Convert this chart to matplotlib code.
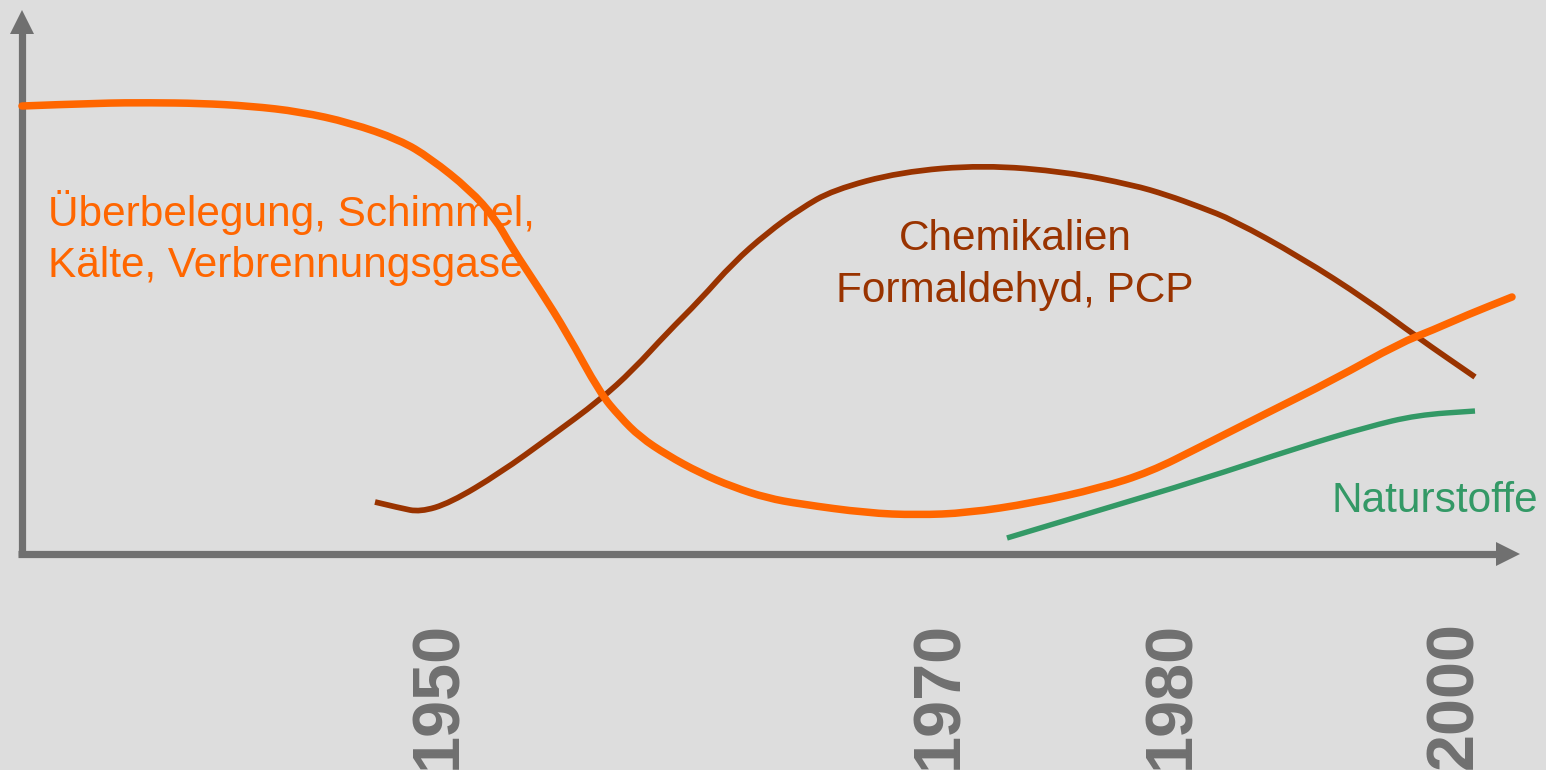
import matplotlib
matplotlib.use("Agg")
from matplotlib import pyplot as plt
from matplotlib.path import Path
from matplotlib.patches import PathPatch

plt.rcParams['font.family'] = ['Liberation Sans', 'DejaVu Sans']

BG = '#dddddd'
GREY = '#707070'
ORANGE = '#ff6600'
BROWN = '#993300'
GREEN = '#339966'

# chart units: x measured right of the y axis, y measured above the x axis
orange_x = [0, 78, 128, 178, 228, 278, 328, 378, 408, 448, 473, 490, 518, 545,
            578, 598, 618, 645, 678, 711, 745, 778, 845, 895, 945, 1011, 1078,
            1128, 1178, 1245, 1311, 1378, 1411, 1445, 1490]
orange_y = [447, 450, 450.3, 449.7, 447, 441.3, 430.3, 413, 395, 363, 335, 305,
            263, 220, 160, 136, 116, 98, 80, 66, 55, 49, 40, 38, 40, 50, 65,
            81, 106, 140, 173, 210, 223, 238, 256]

brown_x = [353, 378, 398, 428, 478, 528, 578, 611, 645, 678, 711, 745, 778, 811,
           878, 961, 1045, 1111, 1145, 1178, 1211, 1278, 1345, 1395, 1453]
brown_y = [51, 45, 41, 50, 80, 116, 153, 183, 220, 253, 290, 320, 344, 363,
           381, 388, 381, 368, 358, 346, 333, 296, 253, 216, 176]

green_x = [985, 1078, 1178, 1278, 1345, 1395, 1453]
green_y = [15, 43, 73, 106, 126, 138, 142]

tick_pos = [417, 918, 1150, 1433]
tick_labels = ['1950', '1970', '1980', '2000']


def smooth_line(ax, xs, ys, **kw):
    # quadratic bezier through the midpoints, the read points act as controls
    pts = list(zip(xs, ys))
    verts = [pts[0]]
    codes = [Path.MOVETO]
    for i in range(1, len(pts) - 1):
        mid = ((pts[i][0] + pts[i + 1][0]) / 2, (pts[i][1] + pts[i + 1][1]) / 2)
        verts += [pts[i], mid]
        codes += [Path.CURVE3, Path.CURVE3]
    verts.append(pts[-1])
    codes.append(Path.LINETO)
    ax.add_patch(PathPatch(Path(verts, codes), fill=False, **kw))


fig = plt.figure(figsize=(15.46, 7.70), dpi=100, facecolor=BG)
ax = fig.add_axes([0, 0, 1, 1])
ax.set_facecolor(BG)
ax.set_xlim(-22, 1524)
ax.set_ylim(-217, 553)
ax.axis('off')

# axes with arrowheads
ax.plot([0, 0], [-3, 522], color=GREY, lw=5.2, solid_capstyle='butt')
ax.plot([0], [531], marker='^', markersize=17, color=GREY, mew=0)
ax.plot([-4, 1478], [-1, -1], color=GREY, lw=5.2, solid_capstyle='butt')
ax.plot([1486], [-1], marker='>', markersize=17, color=GREY, mew=0)

smooth_line(ax, orange_x, orange_y, edgecolor=ORANGE, lw=5.4,
            capstyle='round', joinstyle='round', zorder=3)
smooth_line(ax, brown_x, brown_y, edgecolor=BROWN, lw=4.1,
            capstyle='butt', joinstyle='round', zorder=2)
smooth_line(ax, green_x, green_y, edgecolor=GREEN, lw=3.9,
            capstyle='butt', joinstyle='round', zorder=2)

ax.text(26, 327, 'Überbelegung, Schimmel,', color=ORANGE, fontsize=30.5,
        ha='left', va='baseline', zorder=1)
ax.text(26, 276, 'Kälte, Verbrennungsgase', color=ORANGE, fontsize=30.5,
        ha='left', va='baseline', zorder=1)
ax.text(993, 303, 'Chemikalien', color=BROWN, fontsize=30.5, ha='center',
        va='baseline', zorder=1)
ax.text(993, 251, 'Formaldehyd, PCP', color=BROWN, fontsize=30.5, ha='center',
        va='baseline', zorder=1)
ax.text(1516, 41, 'Naturstoffe', color=GREEN, fontsize=30.5, ha='right',
        va='baseline', zorder=1)

for xp, lab in zip(tick_pos, tick_labels):
    ax.text(xp, -68, lab, color=GREY, fontsize=48, fontweight='bold',
            rotation=90, ha='center', va='top', clip_on=False)

fig.savefig('out.png', dpi=100, facecolor=BG)
